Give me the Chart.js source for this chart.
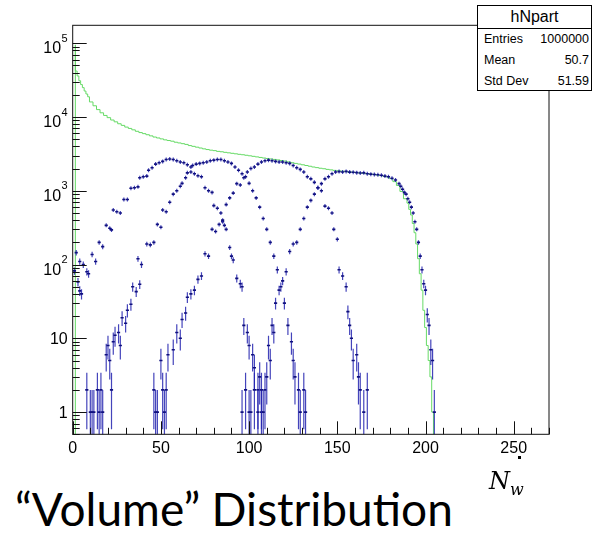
<!DOCTYPE html>
<html>
<head>
<meta charset="utf-8">
<script src="https://cdn.jsdelivr.net/npm/chart.js@4.4.1/dist/chart.umd.min.js"></script>
<style>
  body { margin: 0; background: #fff; width: 593px; height: 537px; position: relative; overflow: hidden; font-family: "Liberation Sans", Arial, sans-serif; }
  #wrap { position: absolute; left: 0; top: 0; width: 593px; height: 470px; }
  #stats { position: absolute; left: 477px; top: 5px; width: 115px; height: 86px; border: 1px solid #000; box-sizing: border-box; background: #fff; }
  #stats .hd { height: 22px; border-bottom: 1px solid #000; text-align: center; font-size: 16px; line-height: 22px; }
  #stats .row { display: flex; justify-content: space-between; padding: 0 2px 0 6px; font-size: 12.5px; height: 21px; line-height: 21px; }
  #title { position: absolute; left: 15px; top: 486px; font-family: Lato, "Open Sans", sans-serif; font-size: 46px; line-height: 46px; color: #000; white-space: nowrap; }
  #nw { position: absolute; left: 489px; top: 466px; font-family: "DejaVu Serif", "Liberation Serif", serif; font-style: italic; font-size: 24px; line-height: 30px; }
  #nw sub { font-size: 16px; }
  #dot { position: absolute; left: 518px; top: 456px; width: 3px; height: 3px; background: #000; }
</style>
</head>
<body>
<div id="wrap"><canvas id="chart"></canvas></div>
<div id="stats">
  <div class="hd">hNpart</div>
  <div class="row"><span>Entries</span><span>1000000</span></div>
  <div class="row"><span>Mean</span><span>50.7</span></div>
  <div class="row"><span>Std Dev</span><span>51.59</span></div>
</div>
<div id="dot"></div>
<div id="nw">N<sub>w</sub></div>
<div id="title">“Volume” Distribution</div>
<script>
// all events, hNpart (bin centre, entries)
const allNpart = [
  [2,95000],[3,42000],[4,36000],[5,31000],[6,27500],[7,25000],[8,22500],[9,20500],[10,18800],
  [12,16000],[14,14200],[16,12600],[18,11400],[20,10500],[22,9800],[24,9100],[26,8600],[28,8100],
  [30,7700],[32,7300],[34,7000],[36,6700],[38,6400],[40,6150],[42,5950],[44,5750],[46,5550],
  [48,5350],[50,5200],[52,5050],[54,4900],[56,4800],[58,4700],[60,4550],[62,4450],[64,4350],
  [66,4250],[68,4100],[70,4000],[72,3900],[74,3800],[76,3700],[78,3620],[80,3550],[82,3500],
  [84,3420],[86,3380],[88,3320],[90,3270],[92,3220],[94,3170],[96,3120],[98,3080],[100,3030],
  [102,2980],[104,2930],[106,2880],[108,2830],[110,2780],[112,2740],[114,2700],[116,2660],
  [118,2620],[120,2570],[122,2530],[124,2460],[126,2400],[128,2350],[130,2300],[132,2250],
  [134,2200],[136,2150],[138,2100],[140,2060],[142,2020],[144,1990],[146,1950],[148,1920],
  [150,1890],[152,1870],[154,1850],[156,1830],[158,1800],[160,1790],[162,1770],[164,1750],
  [166,1730],[168,1710],[170,1690],[172,1670],[174,1640],[176,1610],[178,1580],[180,1540],
  [182,1460],[184,1330],[186,1180],[188,980],[190,780],[191,680],[192,560],[193,470],[194,360],
  [195,270],[196,190],[197,120],[198,75],[199,45],[200,24],[201,14],[202,8],[203,5],[204,3],[205,1]
];

// selected classes (blue points)
const classA0 = [[1,82],[3,58],[4,44],[5,40]];
const classA = [
  [2,145],[4,110],[6,100],[8,80],[9,75],[11,137],[13,110],[15,200],[17,175],[19,340],[21,310],
  [22,295],[23,550],[25,520],[27,500],[29,760],[31,760],[33,1080],[35,1100],[37,1130],[38,1500],
  [40,1550],[42,1580],[43,1900],[45,2050],[47,2300],[49,2400],[51,2500],[53,2650],[55,2700],
  [57,2650],[59,2550],[61,2450],[63,2400],[65,2250],[67,1800],[69,1700],[71,1600],[73,1550],
  [75,1100],[77,1000],[79,950],[80,630],[82,580],[84,500],[85,380],[86,340],[87,300],[89,170],
  [90,130],[91,115],[93,65],[95,55],[96,50],[97,15],[99,12],[100,8],[102,6],[103,4],[105,2],
  [106,3],[107,1],[109,2]
];
const classB = [
  [8,2],[10,1],[11,1],[12,1],[14,2],[15,1],[16,2],[17,1],[19,6],[20,8],[21,5],[22,2],[23,9],
  [24,11],[26,12],[27,8],[28,19],[30,16],[31,24],[33,29],[34,50],[36,43],[37,120],[38,54],
  [39,100],[42,190],[44,185],[46,200],[48,350],[50,320],[51,550],[53,520],[55,700],[57,900],
  [59,1000],[61,1150],[62,1260],[64,1500],[65,1750],[67,2100],[68,2200],[70,2300],[72,2350],
  [74,2400],[76,2450],[78,2550],[80,2600],[82,2650],[84,2650],[86,2550],[88,2450],[90,2350],
  [92,2100],[94,1900],[96,1700],[98,1550],[100,1260],[102,1000],[104,800],[106,600],[108,420],
  [110,300],[112,200],[114,130],[116,85],[118,50],[120,30],[122,15],[124,9],[125,5],[126,3],
  [128,2],[129,1],[131,2],[132,1]
];
const classC = [
  [46,2],[47,1],[48,1],[50,5],[51,2],[52,1],[53,2],[54,6],[57,7],[59,12],[61,10],[62,18],[64,22],
  [65,36],[67,40],[69,45],[71,63],[73,70],[75,140],[77,130],[79,300],[81,280],[83,350],[85,400],
  [87,650],[89,800],[91,930],[93,1250],[95,1200],[97,1500],[99,1800],[101,2000],[103,2100],
  [105,2300],[107,2450],[109,2550],[111,2600],[113,2550],[115,2500],[117,2450],[119,2450],
  [121,2400],[123,2350],[125,2200],[127,2050],[129,1950],[131,1800],[133,1550],[135,1450],
  [137,1300],[139,1100],[141,1000],[143,620],[145,580],[147,500],[148,300],[150,220],[151,85],
  [153,70],[155,50],[156,23],[157,15],[158,10],[159,5],[161,6],[162,3],[163,2],[165,1],[167,2]
];
const classD = [
  [96,1],[98,2],[100,1],[101,1],[103,2],[105,1],[107,2],[108,1],[110,3],[111,8],[112,5],[113,15],
  [114,12],[115,30],[117,45],[119,60],[121,80],[123,150],[125,190],[127,200],[129,300],[131,420],
  [133,600],[135,740],[137,900],[139,1100],[141,1250],[143,1450],[145,1550],[147,1700],[149,1800],
  [151,1820],[153,1800],[155,1830],[157,1790],[159,1780],[161,1760],[163,1740],[165,1750],
  [167,1700],[169,1680],[171,1660],[173,1650],[175,1620],[177,1580],[179,1550],[181,1480],
  [183,1400],[185,1250],[186,1150],[187,1050],[188,950],[189,900],[190,780],[191,700],[192,600],
  [193,500],[194,380],[195,300],[196,200],[197,130],[198,85],[199,55],[200,45],[201,21],[202,15],
  [203,7],[204,5],[205,1]
];

const decades = [1, 10, 100, 1000, 10000, 100000];
const decadeExp = ['', '', '2', '3', '4', '5'];
const xTicks = [0, 50, 100, 150, 200, 250];

// histogram outline: steps at the low bin edge, closed down to the floor
const greenLine = [{ x: allNpart[0][0] - 0.5, y: 0.1 }]
  .concat(allNpart.map(b => ({ x: b[0] - 0.5, y: b[1] })))
  .concat([{ x: allNpart[allNpart.length - 1][0] + 0.5, y: 0.1 }]);

const toPts = arr => arr.map(b => ({ x: b[0], y: b[1] }));
const blueSets = [classA0, classA, classB, classC, classD];

const FONT = '"Liberation Sans", Arial, sans-serif';

// ROOT-like frame, inner tick marks, y labels with exponents
const rootAxes = {
  id: 'rootAxes',
  afterDraw(chart) {
    const { ctx, chartArea: a, scales: { x, y } } = chart;
    ctx.save();
    ctx.strokeStyle = '#111';
    ctx.lineWidth = 1;
    ctx.strokeRect(a.left, a.top, a.right - a.left, a.bottom - a.top);
    ctx.beginPath();
    for (let v = 0; v <= 270; v += 10) {
      const px = Math.round(x.getPixelForValue(v)) + 0.5;
      const len = v % 50 === 0 ? 13 : 6.5;
      ctx.moveTo(px, a.bottom); ctx.lineTo(px, a.bottom - len);
    }
    for (let k = -1; k <= 5; k++) {
      for (let m = 1; m <= 9; m++) {
        const v = m * Math.pow(10, k);
        if (v < 0.5 || v > 1.75e5) continue;
        const py = Math.round(y.getPixelForValue(v)) + 0.5;
        const len = m === 1 ? 14 : 7;
        ctx.moveTo(a.left, py); ctx.lineTo(a.left + len, py);
      }
    }
    ctx.stroke();
    ctx.fillStyle = '#000';
    ctx.textBaseline = 'alphabetic';
    decades.forEach((d, i) => {
      const py = y.getPixelForValue(d);
      const right = a.left - 5;
      if (!decadeExp[i]) {
        ctx.font = '16px ' + FONT;
        ctx.textAlign = 'right';
        ctx.fillText(String(d), right, py + 6);
      } else {
        ctx.font = '11px ' + FONT;
        ctx.textAlign = 'right';
        ctx.fillText(decadeExp[i], right, py - 1.5);
        const ew = ctx.measureText(decadeExp[i]).width;
        ctx.font = '16px ' + FONT;
        ctx.fillText('10', right - ew - 0.5, py + 10);
      }
    });
    ctx.restore();
  }
};

// error bars + bin marks for the blue classes
const errorBars = {
  id: 'errorBars',
  afterDatasetsDraw(chart) {
    const { ctx, chartArea: a, scales: { x, y } } = chart;
    ctx.save();
    ctx.beginPath();
    ctx.rect(a.left, a.top, a.right - a.left, a.bottom - a.top);
    ctx.clip();
    chart.data.datasets.forEach((ds, i) => {
      if (!ds.errorBars) return;
      const meta = chart.getDatasetMeta(i);
      meta.data.forEach((pt, j) => {
        const v = ds.data[j].y;
        const e = Math.sqrt(v);
        let yHi = y.getPixelForValue(v + e);
        let yLo = v - e > 0 ? y.getPixelForValue(v - e) : a.bottom + 2;
        if (yLo - yHi < 4) { yHi = pt.y - 2; yLo = pt.y + 2; }
        const half = x.getPixelForValue(ds.data[j].x + 0.9) - pt.x;
        ctx.strokeStyle = 'rgba(35,35,175,0.85)';
        ctx.lineWidth = 1.2;
        ctx.beginPath(); ctx.moveTo(pt.x, yHi); ctx.lineTo(pt.x, yLo); ctx.stroke();
        ctx.strokeStyle = '#10107e';
        ctx.lineWidth = 1.6;
        ctx.beginPath(); ctx.moveTo(pt.x - half, pt.y); ctx.lineTo(pt.x + half, pt.y); ctx.stroke();
      });
    });
    ctx.restore();
  }
};

const datasets = [{
  label: 'hNpart',
  data: greenLine,
  borderColor: '#66da66',
  borderWidth: 1,
  stepped: 'after',
  pointRadius: 0,
  fill: false
}].concat(blueSets.map(s => ({
  data: toPts(s),
  showLine: false,
  pointRadius: 0,
  errorBars: true
})));

new Chart(document.getElementById('chart'), {
  type: 'line',
  data: { datasets },
  options: {
    responsive: true,
    maintainAspectRatio: false,
    animation: false,
    devicePixelRatio: 1,
    layout: { padding: { left: 0, top: 25.3, right: 44, bottom: 0 } },
    plugins: { legend: { display: false }, tooltip: { enabled: false } },
    scales: {
      x: {
        type: 'linear', min: 0, max: 270,
        afterBuildTicks: s => { s.ticks = xTicks.map(v => ({ value: v })); },
        afterFit: s => { s.height = 35.7; },
        grid: { display: false, drawTicks: false },
        border: { display: false },
        ticks: { color: '#000', padding: 5, maxRotation: 0, autoSkip: false, font: { family: FONT, size: 16 } }
      },
      y: {
        type: 'logarithmic', min: 0.5, max: 1.75e5,
        afterFit: s => { s.width = 72.7; },
        grid: { display: false, drawTicks: false },
        border: { display: false },
        ticks: { display: false }
      }
    }
  },
  plugins: [errorBars, rootAxes]
});
</script>
</body>
</html>
